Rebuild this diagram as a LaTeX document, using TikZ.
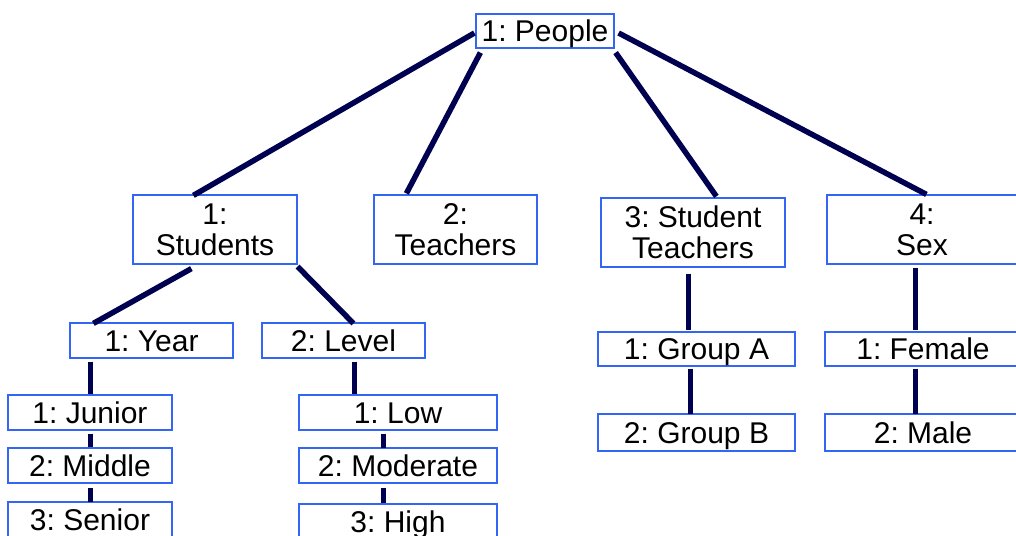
\documentclass[tikz,border=0pt]{standalone}
\usepackage{fontspec}
\setmainfont{Liberation Sans}
\usetikzlibrary{calc}
\definecolor{edgeblue}{RGB}{51,102,245}
\definecolor{linknavy}{RGB}{0,0,80}
\frenchspacing
\begin{document}
\begin{tikzpicture}[x=1pt,y=-1pt,
  box/.style={draw=edgeblue,line width=1.2pt,fill=white,inner sep=0pt,
    font=\fontsize{30}{31}\selectfont},
  onel/.style={box,text height=21.5pt,text depth=0pt},
  twol/.style={box,align=center},
  link/.style={draw=linknavy,line width=5.5pt}]
\clip (0,0) rectangle (1016,535);
\fill[white] (0,0) rectangle (1016,535);

% top level
\node[onel,minimum width=138pt,minimum height=34pt] (people) at (545,31) {1: People};

% second level
\node[twol,minimum width=164pt,minimum height=69pt] (students) at (215,229.5) {1:\\Students};
\node[twol,minimum width=163pt,minimum height=69pt] (teachers) at (455.5,229.5) {2:\\Teachers};
\node[twol,minimum width=184pt,minimum height=69pt] (stteach) at (693,232.5) {3: Student\\Teachers};
\node[twol,minimum width=190pt,minimum height=69pt] (sex) at (922,229.5) {4:\\Sex};

% students' branches
\node[onel,minimum width=163pt,minimum height=35pt] (year) at (151.5,340.5) {1: Year};
\node[onel,minimum width=163pt,minimum height=35pt] (level) at (343.5,340.5) {2: Level};

\node[onel,minimum width=164pt,minimum height=35pt] (junior) at (90,412.5) {1: Junior};
\node[onel,minimum width=164pt,minimum height=35pt] (middle) at (90,465.5) {2: Middle};
\node[onel,minimum width=164pt,minimum height=35pt] (senior) at (90,519.5) {3: Senior};

\node[onel,minimum width=198pt,minimum height=35pt] (low) at (398,412.5) {1: Low};
\node[onel,minimum width=198pt,minimum height=35pt] (moderate) at (398,465.5) {2: Moderate};
\node[onel,minimum width=198pt,minimum height=35pt] (high) at (398,521.5) {3: High};

% student teachers and sex
\node[onel,minimum width=197pt,minimum height=34pt] (groupa) at (696.5,349) {1: Group A};
\node[onel,minimum width=197pt,minimum height=37pt] (groupb) at (696.5,432.5) {2: Group B};
\node[onel,minimum width=196pt,minimum height=34pt] (female) at (923,349) {1: Female};
\node[onel,minimum width=196pt,minimum height=37pt] (male) at (923,432.5) {2: Male};

% connectors
\draw[link] ($(people.west)+(-1,2)$) -- ($(students.north west)+(61,1)$);
\draw[link] ($(people.south west)+(5,4)$) -- ($(teachers.north west)+(33,-1)$);
\draw[link] ($(people.south east)+(1,4)$) -- ($(stteach.north west)+(116,-1)$);
\draw[link] ($(people.east)+(4,2)$) -- ($(sex.north west)+(100,0)$);

\draw[link] ($(students.south west)+(59,4)$) -- ($(year.north west)+(24,1)$);
\draw[link] ($(students.south east)+(0,2)$) -- ($(level.north west)+(92,1)$);

\draw[link] ($(year.south west)+(21,3)$) -- ($(junior.north west)+(83,0)$);
\draw[link] ($(junior.south west)+(83,3)$) -- ($(middle.north west)+(83,0)$);
\draw[link] ($(middle.south west)+(83,4)$) -- ($(senior.north west)+(83,1)$);

\draw[link] ($(level.south west)+(93,3)$) -- ($(low.north west)+(56,0)$);
\draw[link] ($(low.south west)+(85,3)$) -- ($(moderate.north west)+(85,1)$);
\draw[link] ($(moderate.south west)+(85,4)$) -- ($(high.north west)+(85,0)$);

\draw[link] ($(stteach.south west)+(88,6)$) -- ($(groupa.north west)+(91,-1)$);
\draw[link] ($(groupa.south west)+(93,2)$) -- ($(groupb.north west)+(93,1)$);
\draw[link] ($(sex.south west)+(89,3)$) -- ($(female.north west)+(91,-1)$);
\draw[link] ($(female.south west)+(91,2)$) -- ($(male.north west)+(91,1)$);
\end{tikzpicture}
\end{document}
